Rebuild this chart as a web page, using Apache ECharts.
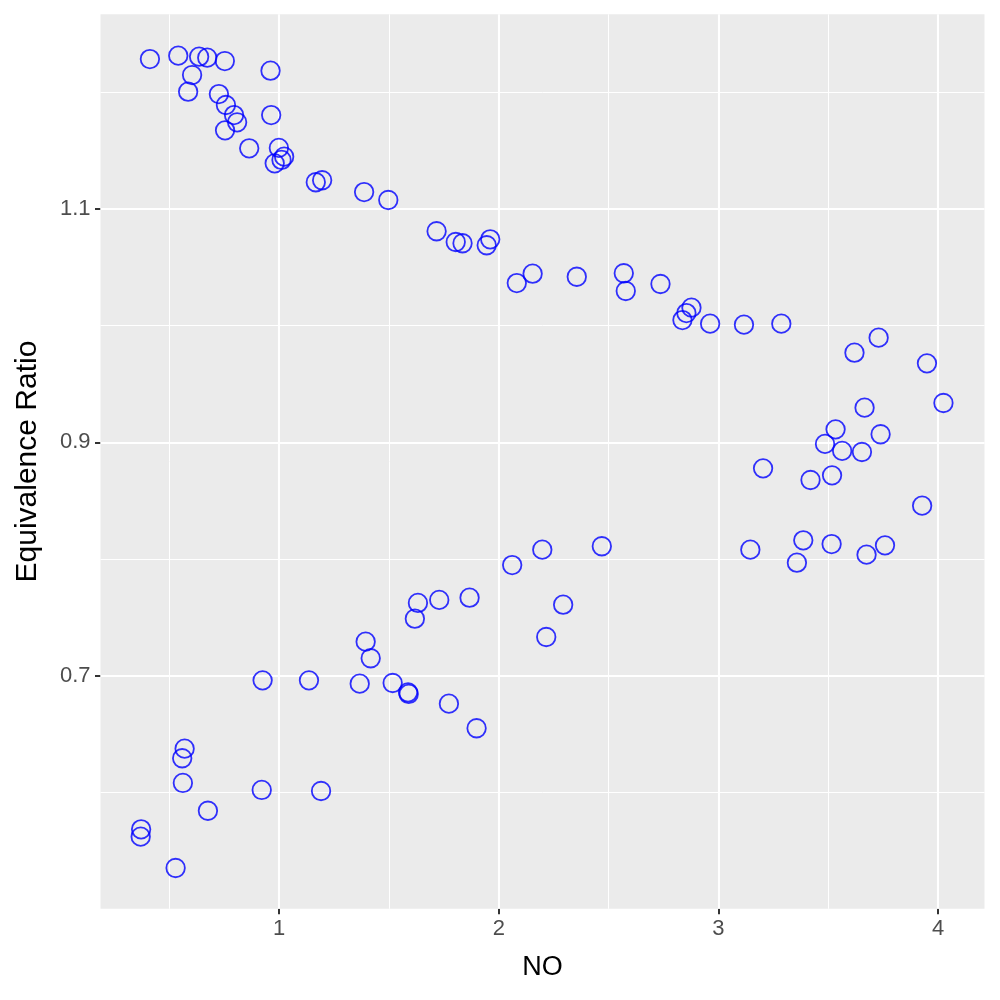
<!DOCTYPE html>
<html>
<head>
<meta charset="utf-8">
<script src="https://cdn.jsdelivr.net/npm/echarts@6/dist/echarts.min.js"></script>
<style>
  html, body { margin: 0; padding: 0; background: #fff; }
  #chart { width: 1000px; height: 1000px; }
</style>
</head>
<body>
<div id="chart"></div>
<script>
// NO vs equivalence ratio
const noValues = [
    0.412, 0.541, 0.636, 0.673, 0.753, 0.961, 0.604, 0.586, 0.726, 0.758,
    0.964, 0.795, 0.809, 0.754, 0.864, 0.999, 1.023, 1.011, 0.980, 1.167,
    1.196, 1.387, 1.497, 1.717, 1.804, 1.835, 1.961, 1.945, 2.082, 2.154,
    2.355, 2.569, 2.578, 2.736, 2.877, 2.854, 2.836, 2.962, 3.116, 3.286,
    3.729, 3.619, 3.949, 4.024, 3.665, 3.533, 3.738, 3.485, 3.563, 3.653,
    3.203, 3.517, 3.419, 3.927, 3.386, 3.145, 3.515, 3.758, 3.674, 3.357,
    2.469, 2.198, 2.061, 1.632, 1.729, 1.867, 1.618, 2.293, 2.216, 1.394,
    1.417, 1.367, 1.517, 1.587, 1.590, 1.773, 1.899, 0.925, 1.136, 0.570,
    0.559, 0.562, 0.921, 1.191, 0.676, 0.372, 0.370, 0.529
];
const eqRatio = [
    1.2285, 1.2314, 1.2305, 1.2297, 1.2268, 1.2185, 1.2148, 1.2005, 1.1985, 1.1891,
    1.1805, 1.1805, 1.1743, 1.1674, 1.1520, 1.1523, 1.1448, 1.1420, 1.1391, 1.1229,
    1.1246, 1.1145, 1.1077, 1.0809, 1.0717, 1.0706, 1.0740, 1.0689, 1.0365, 1.0445,
    1.0419, 1.0449, 1.0297, 1.0357, 1.0154, 1.0108, 1.0048, 1.0017, 1.0008, 1.0017,
    0.9897, 0.9768, 0.9677, 0.9337, 0.9297, 0.9111, 0.9069, 0.8986, 0.8926, 0.8917,
    0.8777, 0.8717, 0.8677, 0.8457, 0.8160, 0.8080, 0.8128, 0.8117, 0.8037, 0.7968,
    0.8109, 0.8080, 0.7948, 0.7623, 0.7649, 0.7668, 0.7488, 0.7608, 0.7331, 0.7291,
    0.7149, 0.6931, 0.6937, 0.6857, 0.6843, 0.6760, 0.6549, 0.6960, 0.6960, 0.6374,
    0.6292, 0.6080, 0.6020, 0.6011, 0.5842, 0.5683, 0.5620, 0.5351
];

const xBreaks = [1, 2, 3, 4];
const xMinor = [0.5, 1.5, 2.5, 3.5];
const yBreaks = [0.7, 0.9, 1.1];
const yMinor = [0.6, 0.8, 1.0, 1.2];

// ggplot style 5% expansion
const xMin = 0.1871, xMax = 4.2109;
const yMin = 0.50015, yMax = 1.26685;

let points = noValues.map((v, i) => [v, eqRatio[i]]);

function gridLines(vals, key, width) {
    return vals.map(v => ({
        [key]: v,
        lineStyle: {color: '#ffffff', width: width, type: 'solid'}
    }));
}

let chartDom = document.getElementById('chart');
let myChart = echarts.init(chartDom, null, {renderer: 'canvas'});
let option = {
    animation: false,
    textStyle: {fontFamily: 'Liberation Sans'},
    grid: {
        left: 100.5, right: 15.5, top: 14.3, bottom: 91.2,
        show: true, backgroundColor: '#EBEBEB', borderWidth: 0
    },
    xAxis: {
        type: 'value', min: xMin, max: xMax,
        name: 'NO', nameLocation: 'middle', nameGap: 45,
        nameTextStyle: {color: '#000', fontSize: 27, fontFamily: 'Liberation Sans'},
        axisLine: {show: false},
        axisTick: {show: true, length: 5.5, lineStyle: {color: '#333333', width: 2}, customValues: xBreaks},
        axisLabel: {color: '#4D4D4D', fontSize: 22, margin: 9, customValues: xBreaks,
            formatter: v => String(v)},
        splitLine: {show: false}
    },
    yAxis: {
        type: 'value', min: yMin, max: yMax,
        name: 'Equivalence Ratio', nameLocation: 'middle', nameGap: 58,
        nameTextStyle: {color: '#000', fontSize: 30, fontFamily: 'Liberation Sans'},
        axisLine: {show: false},
        axisTick: {show: true, length: 5.5, lineStyle: {color: '#333333', width: 2}, customValues: yBreaks},
        axisLabel: {color: '#4D4D4D', fontSize: 22, margin: 10, customValues: yBreaks,
            formatter: v => v.toFixed(1)},
        splitLine: {show: false}
    },
    series: [
        {
            // panel grid lines
            type: 'scatter', data: [], z: 1, silent: true,
            markLine: {
                silent: true, symbol: 'none', label: {show: false}, animation: false,
                data: [].concat(
                    gridLines(xMinor, 'xAxis', 1),
                    gridLines(yMinor, 'yAxis', 1),
                    gridLines(xBreaks, 'xAxis', 2.1),
                    gridLines(yBreaks, 'yAxis', 2.1)
                )
            }
        },
        {
            type: 'scatter', z: 5,
            data: points,
            symbol: 'circle', symbolSize: 18.5,
            itemStyle: {color: 'transparent', borderColor: '#0000FF', borderWidth: 1.8}
        }
    ]
};
option && myChart.setOption(option);
</script>
</body>
</html>
